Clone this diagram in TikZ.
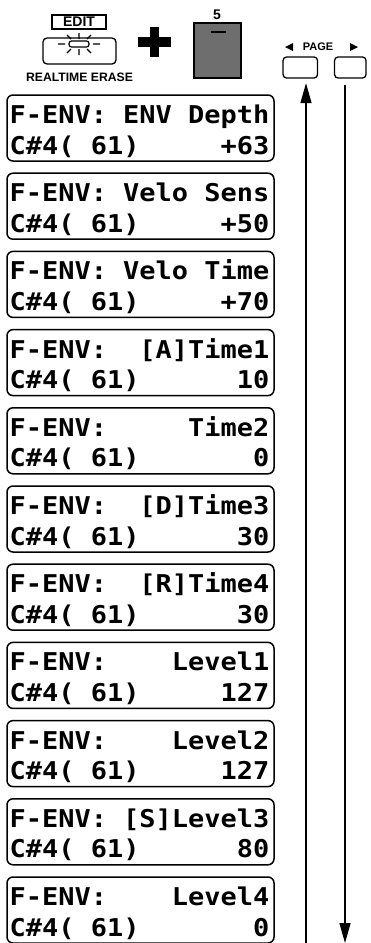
\documentclass[tikz,border=0pt]{standalone}
\usepackage{fontspec}
\usetikzlibrary{arrows.meta}
\newfontfamily\lcdfont{DejaVu Sans Mono}[FakeStretch=1.1]
\newfontfamily\hvfont{Liberation Sans}
\tikzset{
  lcd/.style={draw, line width=1.5pt, rounded corners=6pt, minimum width=267pt, minimum height=66pt, inner sep=0pt},
  lcdtxt/.style={anchor=base west, inner sep=0pt, font=\lcdfont\bfseries\fontsize{24.5}{24.5}\selectfont},
  keybox/.style={draw, line width=1.3pt, inner sep=0pt},
  lbl/.style={inner sep=0pt, font=\hvfont\bfseries},
  arr/.style={line width=1.4pt, -{Triangle[length=20pt,width=11pt]}}
}
\newcommand\lcdbox[4]{%
  \pgfmathsetmacro\bt{95+78.2*#1}%
  \node[lcd] (box#1) at (140.5,\bt+33) {};
  \node[lcdtxt] (la#1) at (9.5,\bt+28.5) {\hbox to 259.6pt{#2\hfill #3}};
  \node[lcdtxt] (lb#1) at (9.5,\bt+59) {\hbox to 259.6pt{C\#4( 61)\hfill #4}};
}
\begin{document}
\begin{tikzpicture}[x=1pt,y=-1pt]
\useasboundingbox (0,0) rectangle (370,943);
% EDIT label and button
\node[keybox, minimum width=54pt, minimum height=14pt, font=\hvfont\bfseries\fontsize{14}{14}\selectfont] (editlbl) at (79,22) {EDIT};
\node[keybox, rounded corners=4pt, minimum width=73pt, minimum height=26pt] (edit) at (79.5,51) {};
% LED with rays
\draw[line width=1.2pt, fill=white, rounded corners=2.5pt] (69,41) rectangle (89,47);
\draw[line width=1.3pt] (79,33) -- (79,39) (79,49) -- (79,55)
  (58,44) -- (65,44) (93,44) -- (100,44)
  (67,35) -- (71,39) (91,35) -- (87,39)
  (71,49) -- (67,53) (87,49) -- (91,53);
\node[lbl, font=\hvfont\bfseries\fontsize{12.2}{12.2}\selectfont] (erase) at (79.5,77) {REALTIME ERASE};
% plus
\fill (138,37.3) rectangle (171,46.7);
\fill (149.8,27) rectangle (159.2,57);
% key 5
\node[keybox, fill=black!57, minimum width=47pt, minimum height=55pt] (key5) at (217.5,50.5) {};
\draw[line width=2.5pt] (211,32) -- (226,32);
\node[lbl, font=\hvfont\bfseries\fontsize{14}{14}\selectfont] (five) at (217,14.5) {5};
% PAGE
\node[lbl, font=\hvfont\bfseries\fontsize{11}{11}\selectfont] (page) at (318,47) {PAGE};
\fill (285,47) -- (293,43) -- (293,51) -- cycle;
\fill (358,47) -- (350,43) -- (350,51) -- cycle;
\node[keybox, rounded corners=3.5pt, minimum width=34.5pt, minimum height=21pt] (pgL) at (300.3,67.5) {};
\node[keybox, rounded corners=3.5pt, minimum width=31.5pt, minimum height=21pt] (pgR) at (350.3,67.5) {};
% arrows
\coordinate (upbot) at (306,945);
\coordinate (dnbot) at (345,943);
\draw[arr, shorten >=4.5pt] (upbot) -- (upbot |- pgL.south);
\draw[arr, shorten <=6pt] (dnbot |- pgR.south) -- (dnbot);
% LCD boxes
\lcdbox{0}{F-ENV: ENV Depth}{}{+63}
\lcdbox{1}{F-ENV: Velo Sens}{}{+50}
\lcdbox{2}{F-ENV: Velo Time}{}{+70}
\lcdbox{3}{F-ENV:}{[A]Time1}{10}
\lcdbox{4}{F-ENV:}{Time2}{0}
\lcdbox{5}{F-ENV:}{[D]Time3}{30}
\lcdbox{6}{F-ENV:}{[R]Time4}{30}
\lcdbox{7}{F-ENV:}{Level1}{127}
\lcdbox{8}{F-ENV:}{Level2}{127}
\lcdbox{9}{F-ENV: [S]Level3}{}{80}
\lcdbox{10}{F-ENV:}{Level4}{0}
\end{tikzpicture}
\end{document}
